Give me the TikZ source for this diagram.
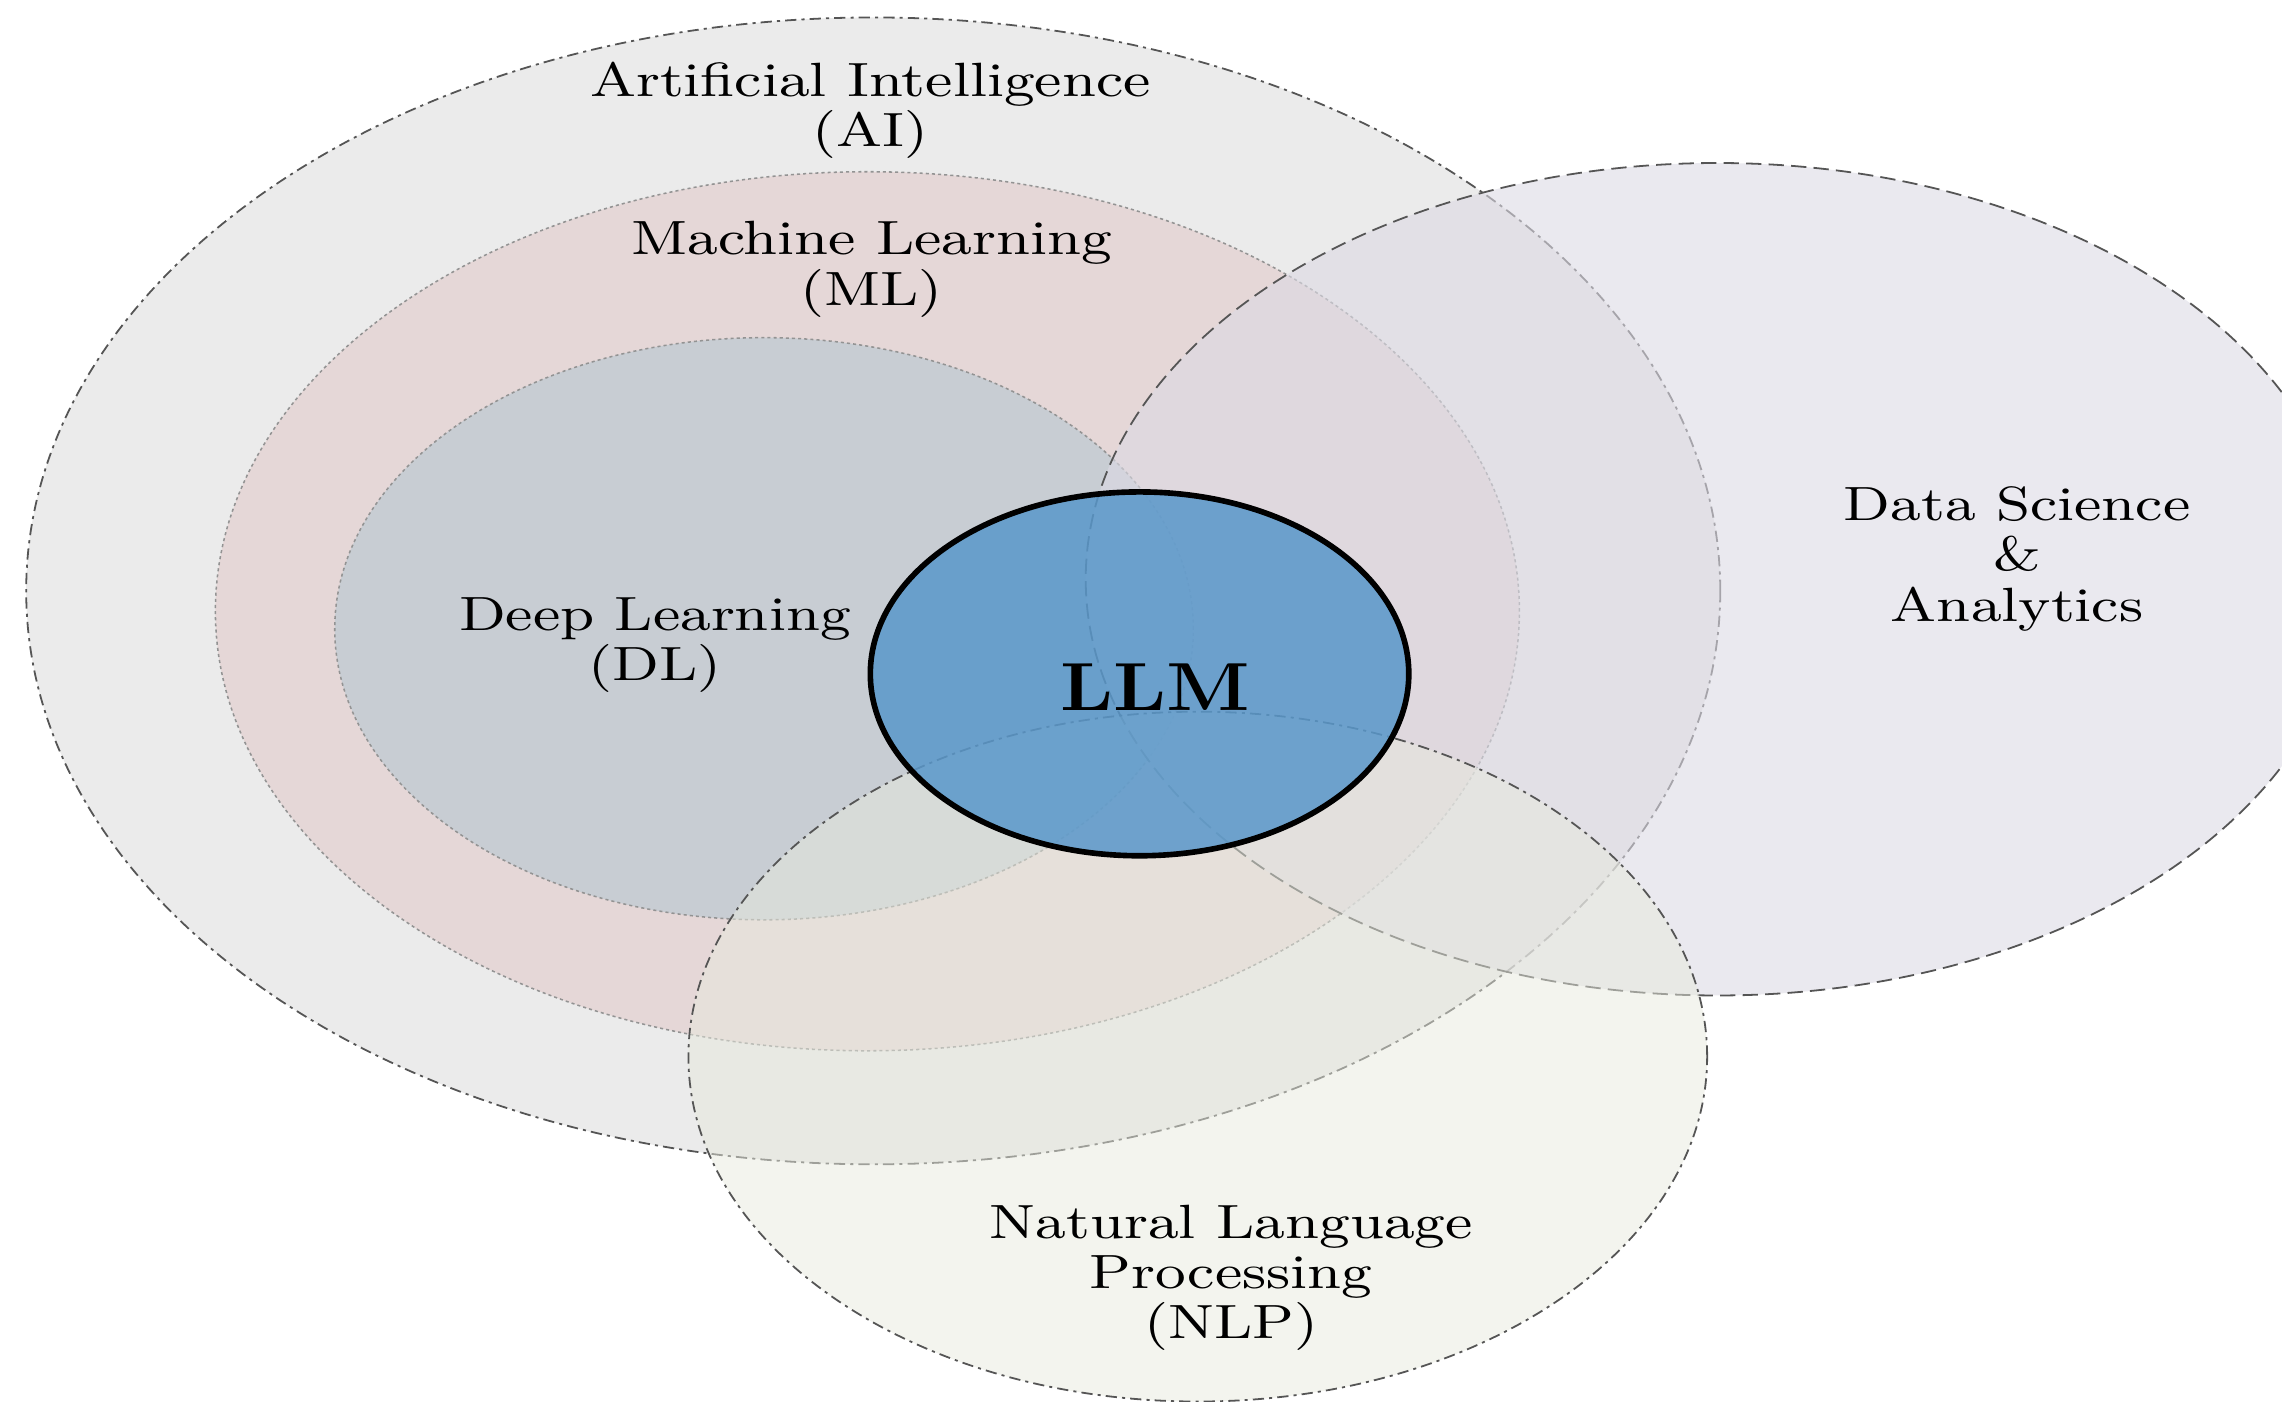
\documentclass[tikz,border=0pt]{standalone}
\usetikzlibrary{positioning}
\definecolor{aigray}{RGB}{235,235,235}
\definecolor{mlpink}{RGB}{229,215,215}
\definecolor{dlblue}{RGB}{200,205,211}
\definecolor{dsviolet}{RGB}{220,218,228}
\definecolor{nlpgreen}{RGB}{231,233,221}
\definecolor{llmblue}{RGB}{89,151,202}
\definecolor{rimgray}{RGB}{85,85,85}

\begin{document}
\begin{tikzpicture}[
    rim/.style={draw=rimgray, line width=0.35pt},
    dashdot/.style={rim, dash pattern=on 2.2pt off 1pt on 0.6pt off 1pt},
    longdash/.style={rim, dash pattern=on 3pt off 1.4pt},
    dotrim/.style={draw=gray!85, line width=0.3pt, dash pattern=on 0.6pt off 0.6pt},
    setname/.style={align=center, xscale=1.24, font=\fontsize{9.4}{9.8}\selectfont}
  ]
  \useasboundingbox (0,0) rectangle (15.68,9.63);
  \clip (0,0) rectangle (15.68,9.63);

  \filldraw[aigray, dashdot] (6.00,5.57) ellipse (5.82 and 3.94);
  \filldraw[mlpink, dotrim] (5.96,5.43) ellipse (4.48 and 3.02);
  \filldraw[dlblue, dotrim] (5.25,5.31) ellipse (2.95 and 2.00);
  \filldraw[dsviolet, fill opacity=0.6, longdash] (11.80,5.65) ellipse (4.34 and 2.86);
  \filldraw[nlpgreen, fill opacity=0.5, dashdot] (8.23,2.37) ellipse (3.50 and 2.37);
  \filldraw[llmblue, fill opacity=0.85, draw=black, line width=1.1pt] (7.83,5.00) ellipse (1.85 and 1.25);

  \node[setname] (ai) at (5.98,8.87) {Artificial Intelligence\\(AI)};
  \node[setname] (ml) at (5.99,7.78) {Machine Learning\\(ML)};
  \node[setname] (dl) at (4.50,5.20) {Deep Learning\\(DL)};
  \node[setname] (ds) at (13.86,5.79) {Data Science\\\&\\Analytics};
  \node[setname] (nlp) at (8.46,0.85) {Natural Language\\Processing\\(NLP)};
  \node[setname, xscale=0.93, font=\fontsize{13.3}{14}\selectfont\bfseries] (llm) at (7.94,4.91) {LLM};
\end{tikzpicture}
\end{document}
